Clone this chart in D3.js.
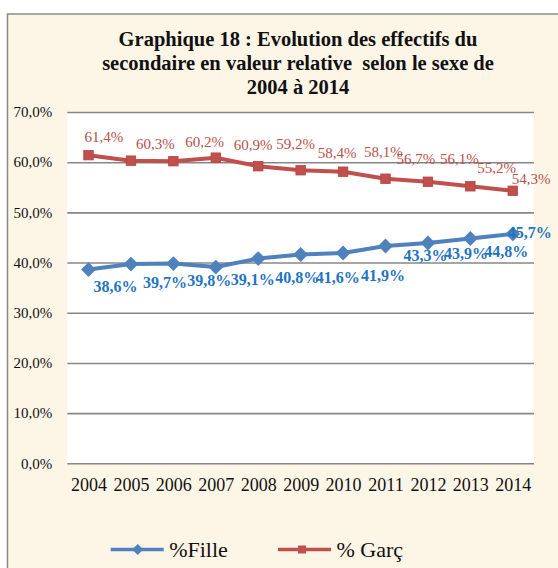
<!DOCTYPE html>
<html lang="fr">

<head>
  <meta charset="UTF-8">
  <title>Graphique 18</title>
  <script src="https://cdn.jsdelivr.net/npm/d3@7"></script>
  <style>
    body { margin: 0; background: #fff; }
    text { font-family: "Liberation Serif", "Times New Roman", serif; }
  </style>
</head>

<body>
  <svg width="558" height="568"></svg>
  <script>
    var years = ['2004', '2005', '2006', '2007', '2008', '2009', '2010', '2011', '2012', '2013', '2014']
    var fille = [38.6, 39.7, 39.8, 39.1, 40.8, 41.6, 41.9, 43.3, 43.9, 44.8, 45.7]
    var garcon = [61.4, 60.3, 60.2, 60.9, 59.2, 58.4, 58.1, 56.7, 56.1, 55.2, 54.3]
    var yTicks = [0, 10, 20, 30, 40, 50, 60, 70]
    var titleLines = ['Graphique 18 : Evolution des effectifs du',
      'secondaire en valeur relative  selon le sexe de',
      '2004 à 2014']
    var legendNames = ['%Fille', '% Garç']

    // label nudges (the labels were moved by hand in the original)
    var filleLabelDx = [5, 12, 14, 15, 17, 15, 18, 18, 16, 14, -5]
    var filleLabelDy = [22, 24, 22, 18, 24, 28, 28, 15, 16, 19, 4]
    var garconLabelDx = [-4, 5, 12, 18, 18, 17, 21, 11, 12, 7, -1]
    var garconLabelDy = [-13, -12, -14, -8, -17, -12, -15, -15, -18, -13, -7]

    var blue = '#4f81bd'
    var red = '#c0504d'

    var fr = d3.formatLocale({ decimal: ',', thousands: ' ', grouping: [3], currency: ['', ' €'] })
    var pct = v => fr.format('.1f')(v) + '%'

    var svg = d3.select('svg')

    // chart area background and frame
    svg.append('rect')
      .attr('x', 7.5).attr('y', 14)
      .attr('width', 560).attr('height', 560)
      .attr('fill', '#fdf5e6')
      .attr('stroke', '#8a8a8a')
      .attr('stroke-width', 1.5)

    var plotLeft = 67.3, plotRight = 534, plotTop = 112, plotBottom = 463.3

    svg.append('rect')
      .attr('x', plotLeft).attr('y', plotTop)
      .attr('width', plotRight - plotLeft).attr('height', plotBottom - plotTop)
      .attr('fill', '#fff')

    var x = d3.scalePoint()
      .domain(years)
      .range([plotLeft, plotRight])
      .padding(0.5)

    var y = d3.scaleLinear()
      .domain([0, 70])
      .range([plotBottom, plotTop])

    // title
    svg.append('g')
      .selectAll('text')
      .data(titleLines)
      .enter()
      .append('text')
      .attr('x', 298)
      .attr('y', (d, i) => 46 + i * 24)
      .attr('text-anchor', 'middle')
      .attr('font-size', 20.5)
      .attr('font-weight', 'bold')
      .attr('fill', '#111')
      .style('white-space', 'pre')
      .text(d => d)

    // y axis with gridlines
    var yAxis = svg.append('g')
      .attr('transform', `translate(${plotLeft},0)`)
      .call(d3.axisLeft(y)
        .tickValues(yTicks)
        .tickSize(-(plotRight - plotLeft))
        .tickPadding(15)
        .tickFormat(pct))
    yAxis.select('.domain').remove()
    yAxis.selectAll('line')
      .attr('stroke', '#878787')
      .attr('stroke-width', 1.6)
    yAxis.selectAll('text')
      .attr('font-size', 15)
      .attr('fill', '#111')
      .attr('font-family', '"Liberation Serif", serif')

    // x axis labels
    var xAxis = svg.append('g')
      .attr('transform', `translate(0,${plotBottom})`)
      .call(d3.axisBottom(x).tickSize(0).tickPadding(15))
    xAxis.select('.domain').remove()
    xAxis.selectAll('text')
      .attr('font-size', 18)
      .attr('fill', '#111')
      .attr('font-family', '"Liberation Serif", serif')

    var line = d3.line()
      .x((d, i) => x(years[i]))
      .y(d => y(d))

    // % Garç
    svg.append('path')
      .datum(garcon)
      .attr('d', line)
      .attr('fill', 'none')
      .attr('stroke', red)
      .attr('stroke-width', 4)
      .attr('stroke-linejoin', 'round')

    svg.append('g')
      .selectAll('rect')
      .data(garcon)
      .enter()
      .append('rect')
      .attr('x', (d, i) => x(years[i]) - 4.75)
      .attr('y', d => y(d) - 4.75)
      .attr('width', 9.5)
      .attr('height', 9.5)
      .attr('fill', red)
      .attr('stroke', '#b8443f')
      .attr('stroke-width', 0.8)

    // %Fille
    svg.append('path')
      .datum(fille)
      .attr('d', line)
      .attr('fill', 'none')
      .attr('stroke', blue)
      .attr('stroke-width', 4)
      .attr('stroke-linejoin', 'round')

    var diamond = d3.symbol().type(d3.symbolSquare).size(110)
    svg.append('g')
      .selectAll('path')
      .data(fille)
      .enter()
      .append('path')
      .attr('d', diamond)
      .attr('transform', (d, i) => `translate(${x(years[i])},${y(d)}) rotate(45)`)
      .attr('fill', blue)

    // data labels
    svg.append('g')
      .selectAll('text')
      .data(garcon)
      .enter()
      .append('text')
      .attr('x', (d, i) => x(years[i]) + garconLabelDx[i])
      .attr('y', (d, i) => y(d) + garconLabelDy[i])
      .attr('font-size', 15)
      .attr('fill', '#b9504c')
      .text(pct)

    svg.append('g')
      .selectAll('text')
      .data(fille)
      .enter()
      .append('text')
      .attr('x', (d, i) => x(years[i]) + filleLabelDx[i])
      .attr('y', (d, i) => y(d) + filleLabelDy[i])
      .attr('font-size', 16)
      .attr('font-weight', 'bold')
      .attr('fill', '#1f74c2')
      .text(pct)

    // legend
    var legend = svg.append('g').attr('transform', 'translate(0,549.5)')
    var items = legend.selectAll('g')
      .data(legendNames)
      .enter()
      .append('g')
      .attr('transform', (d, i) => `translate(${i === 0 ? 110.7 : 278},0)`)

    items.append('line')
      .attr('x1', 0).attr('x2', 53)
      .attr('stroke', (d, i) => i === 0 ? blue : red)
      .attr('stroke-width', 3.5)

    items.append('path')
      .attr('d', (d, i) => i === 0
        ? d3.symbol().type(d3.symbolSquare).size(60)()
        : d3.symbol().type(d3.symbolSquare).size(64)())
      .attr('transform', (d, i) => i === 0 ? 'translate(27,0) rotate(45)' : 'translate(24,0)')
      .attr('fill', (d, i) => i === 0 ? blue : red)

    items.append('text')
      .attr('x', 58.5)
      .attr('y', 7)
      .attr('font-size', 22)
      .attr('fill', '#111')
      .style('white-space', 'pre')
      .text(d => d)
  </script>
</body>

</html>
